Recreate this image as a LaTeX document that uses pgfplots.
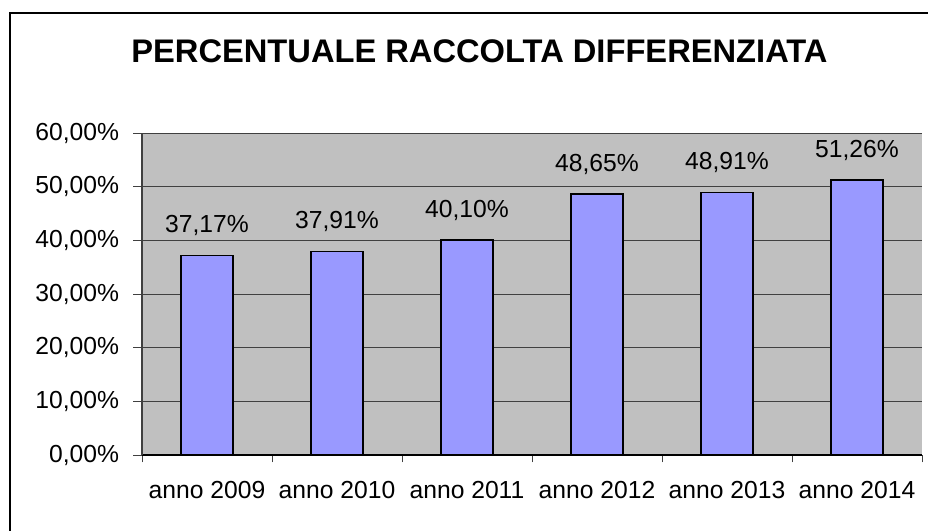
\documentclass[border=0pt]{standalone}
\usepackage{fontspec}
\setmainfont{Liberation Sans}
\usepackage{pgfplots}
\pgfplotsset{compat=1.18}

\definecolor{plotbg}{HTML}{C0C0C0}
\definecolor{barfill}{HTML}{9999FF}
\definecolor{gridcol}{HTML}{404040}

\begin{document}
\begin{tikzpicture}
\useasboundingbox (0,0) rectangle (696pt,-398.25pt);
\begin{scope}
\clip (0,0) rectangle (696pt,-398.25pt);
\draw[line width=1.5pt] (7.5pt,-9.4pt) rectangle (730pt,-420pt);

\node[anchor=base, font=\fontsize{24.5}{28}\selectfont\bfseries] at (359.6pt,-47.25pt)
  {PERCENTUALE RACCOLTA DIFFERENZIATA};

\begin{axis}[
    at={(106.5pt,-341.25pt)}, anchor=south west,
    scale only axis,
    width=585pt, height=241.5pt,
    axis lines*=left,
    axis line style={line width=0.9pt, gridcol},
    x axis line style={black},
    axis background/.style={fill=plotbg},
    ybar, bar width=39pt,
    xmin=-0.5, xmax=5.5,
    ymin=0, ymax=60,
    xtick={0,1,2,3,4,5},
    xticklabels={anno 2009, anno 2010, anno 2011, anno 2012, anno 2013, anno 2014},
    major x tick style={draw=none},
    minor xtick={-0.5,0.5,1.5,2.5,3.5,4.5,5.5},
    minor x tick style={gridcol, line width=0.75pt},
    ytick={0,10,20,30,40,50,60},
    yticklabels={{0,00\%},{10,00\%},{20,00\%},{30,00\%},{40,00\%},{50,00\%},{60,00\%}},
    y tick style={gridcol, line width=0.75pt},
    tick align=outside,
    major tick length=6.5pt,
    minor tick length=5.5pt,
    ymajorgrids,
    grid style={gridcol, line width=0.75pt},
    tick label style={font=\fontsize{18.5}{22}\selectfont},
    xticklabel style={inner sep=0pt, anchor=north, yshift=-13pt},
    yticklabel style={inner sep=0pt, anchor=east, xshift=-10.5pt},
    /pgf/number format/assume math mode=true,
    nodes near coords={\pgfmathprintnumber[fixed,fixed zerofill,precision=2,use comma]{\pgfplotspointmeta}\%},
    every node near coord/.append style={font=\fontsize{18.5}{22}\selectfont, inner sep=0pt, anchor=south, yshift=14pt, black},
    clip=false,
]
\addplot[fill=barfill, draw=black, line width=1.1pt] coordinates {
    (0,37.17) (1,37.91) (2,40.10) (3,48.65) (4,48.91) (5,51.26)
};
\end{axis}
\end{scope}
\end{tikzpicture}
\end{document}
